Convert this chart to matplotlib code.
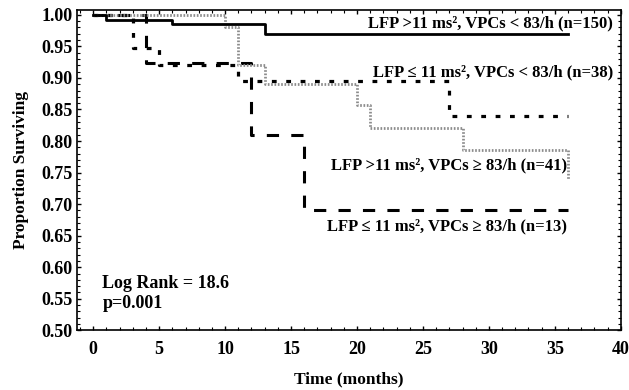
import matplotlib
matplotlib.use('Agg')
import matplotlib.pyplot as plt
from matplotlib.ticker import MultipleLocator

plt.rcParams['font.family'] = ['Liberation Serif', 'DejaVu Serif']
plt.rcParams['font.weight'] = 'bold'

# survival curves (step times in months, proportion surviving)
t_150 = [0, 1, 6, 13, 36]
s_150 = [1.0, 0.992, 0.986, 0.969, 0.969]

t_38 = [0, 3, 5, 11, 27, 36]
s_38 = [1.0, 0.947, 0.921, 0.895, 0.84, 0.84]

t_41 = [0, 10, 11, 13, 20, 21, 28, 36]
s_41 = [1.0, 0.98, 0.92, 0.89, 0.857, 0.82, 0.785, 0.74]

t_13 = [0, 4, 12, 16, 36]
s_13 = [1.0, 0.923, 0.809, 0.69, 0.69]

labels = ['LFP >11 ms\u00b2, VPCs < 83/h (n=150)',
          'LFP \u2264 11 ms\u00b2, VPCs < 83/h (n=38)',
          'LFP >11 ms\u00b2, VPCs \u2265 83/h (n=41)',
          'LFP \u2264 11 ms\u00b2, VPCs \u2265 83/h (n=13)']

fig = plt.figure(figsize=(6.29, 3.9), dpi=100)
ax = fig.add_axes([0.123, 0.153, 0.864, 0.822])

ax.step(t_13, s_13, where='post', color='black', lw=2.2, dashes=(4, 4))
ax.step(t_38, s_38, where='post', color='black', lw=2.3, dashes=(1.5, 3))
ax.step(t_41, s_41, where='post', color='#8c8c8c', lw=2.0, dashes=(0.6, 0.6))
ax.step(t_150, s_150, where='post', color='black', lw=2.0)

ax.set_xlim(-1.2, 40)
ax.set_ylim(0.5, 1.008)
ax.xaxis.set_major_locator(MultipleLocator(5))
ax.xaxis.set_minor_locator(MultipleLocator(1))
ax.yaxis.set_major_locator(MultipleLocator(0.05))
ax.yaxis.set_minor_locator(MultipleLocator(0.01))
ax.yaxis.set_major_formatter(plt.FuncFormatter(lambda v, p: f'{v:.2f}'))
ax.tick_params(which='both', direction='in', top=True, right=True, labelsize=13)
ax.tick_params(which='major', length=3, width=1)
ax.tick_params(which='minor', length=2, width=0.8)
ax.tick_params(axis='x', pad=8)
for sp in ax.spines.values():
    sp.set_linewidth(1.2)

ax.set_xlabel('Time (months)', fontsize=12.5, fontweight='bold', labelpad=9)
ax.set_ylabel('Proportion Surviving', fontsize=12.5, fontweight='bold', labelpad=9)

ax.text(39.4, 0.986, labels[0], ha='right', va='center', fontsize=12)
ax.text(39.4, 0.908, labels[1], ha='right', va='center', fontsize=12)
ax.text(35.9, 0.762, labels[2], ha='right', va='center', fontsize=12)
ax.text(35.9, 0.664, labels[3], ha='right', va='center', fontsize=12)

ax.text(0.7, 0.575, 'Log Rank = 18.6', ha='left', va='center', fontsize=13)
ax.text(0.7, 0.542, 'p=0.001', ha='left', va='center', fontsize=13)

fig.savefig('out.png', dpi=100)
